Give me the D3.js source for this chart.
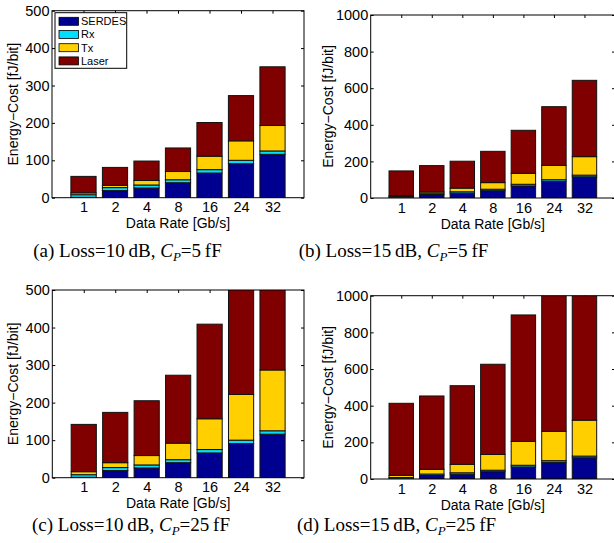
<!DOCTYPE html>
<html>
<head>
<meta charset="utf-8">
<script src="https://cdn.jsdelivr.net/npm/d3@7"></script>
<style>
body { margin: 0; background: #fff; }
svg { display: block; }
</style>
</head>
<body>
<svg id="fig" width="614" height="543"></svg>
<script>
var rates = ["1", "2", "4", "8", "16", "24", "32"];
var seriesNames = ["SERDES", "Rx", "Tx", "Laser"];
var colors = ["#000090", "#00DFFF", "#FFCF00", "#800000"];

var serdes = [1, 19, 26, 40, 66, 91, 116];
var rx = [7, 8, 8, 8, 9, 9, 9];

var txA = [5, 6, 12, 22, 36, 52, 68];
var laserA = [44, 48, 52, 63, 90, 121, 157];
var txB = [5, 7, 20, 36, 60, 78, 101];
var laserB = [135, 143, 147, 171, 235, 321, 417];
var txC = [8, 13, 25, 44, 82, 122, 162];
var laserC = [126, 134, 146, 181, 252, 339, 440];
var txD = [12, 26, 46, 86, 130, 160, 196];
var laserD = [393, 400, 429, 492, 690, 930, 1210];

var ticks500 = [0, 100, 200, 300, 400, 500];
var ticks1000 = [0, 200, 400, 600, 800, 1000];

var panels = [
  {key: "a", tx: txA, laser: laserA, ticks: ticks500, loss: "10", cp: "5"},
  {key: "b", tx: txB, laser: laserB, ticks: ticks1000, loss: "15", cp: "5"},
  {key: "c", tx: txC, laser: laserC, ticks: ticks500, loss: "10", cp: "25"},
  {key: "d", tx: txD, laser: laserD, ticks: ticks1000, loss: "15", cp: "25"}
];

// where each axes box sits on the page
var frames = [
  {left: 52, right: 304, top: 10.7, bottom: 197.7, ylabX: 18.3, capX: 127.5, capY: 257},
  {left: 370.7, right: 615, top: 15, bottom: 198, ylabX: 333, capX: 393.5, capY: 257},
  {left: 52.3, right: 304, top: 290, bottom: 477.7, ylabX: 18.3, capX: 131, capY: 531},
  {left: 370.7, right: 615, top: 295.7, bottom: 479, ylabX: 333, capX: 396.5, capY: 531}
];

var svg = d3.select("#fig");
var sans = "'Liberation Sans', Arial, Helvetica, sans-serif";

function cleanAxis(sel, size) {
  sel.select(".domain").remove();
  sel.attr("font-family", sans).attr("font-size", size).attr("color", "#000");
}

panels.forEach(function(p, k) {
  var f = frames[k];
  var x = d3.scaleLinear().domain([0, rates.length + 1]).range([f.left, f.right]);
  var y = d3.scaleLinear().domain([0, p.ticks[p.ticks.length - 1]]).range([f.bottom, f.top]);
  var bw = 0.8 * (x(1) - x(0));

  var rows = rates.map(function(r, i) {
    return {rate: r, pos: i + 1, SERDES: serdes[i], Rx: rx[i], Tx: p.tx[i], Laser: p.laser[i]};
  });
  var stacked = d3.stack().keys(seriesNames)(rows);

  var g = svg.append("g");
  var clipId = "clip-" + p.key;
  g.append("clipPath").attr("id", clipId)
    .append("rect")
    .attr("x", f.left).attr("y", f.top)
    .attr("width", f.right - f.left).attr("height", f.bottom - f.top);

  var tickPos = rates.map(function(r, i) { return i + 1; });

  // ticks (inside, matlab style)
  g.append("g").attr("transform", "translate(" + f.left + ",0)")
    .call(d3.axisLeft(y).tickValues(p.ticks).tickSize(-3).tickSizeOuter(0).tickPadding(2.5)
      .tickFormat(d3.format("d")))
    .call(cleanAxis, 14.5);
  g.append("g").attr("transform", "translate(" + f.right + ",0)")
    .call(d3.axisRight(y).tickValues(p.ticks).tickSize(-3).tickSizeOuter(0).tickFormat(""))
    .call(cleanAxis, 14);
  g.append("g").attr("transform", "translate(0," + f.bottom + ")")
    .call(d3.axisBottom(x).tickValues(tickPos).tickSize(-3).tickSizeOuter(0).tickPadding(4.5)
      .tickFormat(function(d) { return rates[d - 1]; }))
    .call(cleanAxis, 14.5);
  g.append("g").attr("transform", "translate(0," + f.top + ")")
    .call(d3.axisTop(x).tickValues(tickPos).tickSize(-3).tickSizeOuter(0).tickFormat(""))
    .call(cleanAxis, 14);

  // stacked bars
  g.append("g").attr("clip-path", "url(#" + clipId + ")")
    .selectAll("g").data(stacked).join("g")
    .attr("fill", function(d, i) { return colors[i]; })
    .selectAll("rect").data(function(d) { return d; }).join("rect")
    .attr("x", function(d) { return x(d.data.pos) - bw / 2; })
    .attr("y", function(d) { return y(d[1]); })
    .attr("width", bw)
    .attr("height", function(d) { return y(d[0]) - y(d[1]); })
    .attr("stroke", "#111")
    .attr("stroke-width", 1);

  // box
  g.append("rect")
    .attr("x", f.left).attr("y", f.top)
    .attr("width", f.right - f.left).attr("height", f.bottom - f.top)
    .attr("fill", "none").attr("stroke", "#000").attr("stroke-width", 1);

  // axis labels
  g.append("text")
    .attr("x", (f.left + f.right) / 2).attr("y", f.bottom + 30.5)
    .attr("text-anchor", "middle")
    .attr("font-family", sans).attr("font-size", 14)
    .text("Data Rate [Gb/s]");
  g.append("text")
    .attr("transform", "translate(" + f.ylabX + "," + (f.top + f.bottom) / 2 + ") rotate(-90)")
    .attr("text-anchor", "middle")
    .attr("font-family", sans).attr("font-size", 14)
    .text("Energy\u2212Cost [fJ/bit]");

  // caption
  var cap = svg.append("text")
    .attr("x", f.capX).attr("y", f.capY)
    .attr("text-anchor", "middle")
    .attr("font-family", "'Liberation Serif', 'Times New Roman', serif")
    .attr("font-size", 19);
  cap.append("tspan").text("(" + p.key + ") Loss=" + p.loss + "\u2009dB, ");
  cap.append("tspan").attr("font-style", "italic").text("C");
  cap.append("tspan").attr("font-style", "italic").attr("font-size", 13).attr("dy", 4).text("P");
  cap.append("tspan").attr("dy", -4).text("=" + p.cp + "\u2009fF");

  // legend only in the first panel
  if (k === 0) {
    var lg = g.append("g").attr("transform", "translate(" + (f.left + 3) + "," + (f.top + 2) + ")");
    lg.append("rect").attr("width", 71.7).attr("height", 55.6)
      .attr("fill", "#fff").attr("stroke", "#000").attr("stroke-width", 1);
    var item = lg.selectAll("g.item").data(seriesNames).join("g")
      .attr("class", "item")
      .attr("transform", function(d, i) { return "translate(0," + (8.6 + i * 13.2) + ")"; });
    item.append("rect").attr("x", 4).attr("y", -4).attr("width", 19.5).attr("height", 8)
      .attr("fill", function(d, i) { return colors[i]; })
      .attr("stroke", "#000").attr("stroke-width", 0.8);
    item.append("text").attr("x", 26).attr("dy", "0.36em")
      .attr("font-family", sans).attr("font-size", 11)
      .text(function(d) { return d; });
  }
});
</script>
</body>
</html>
